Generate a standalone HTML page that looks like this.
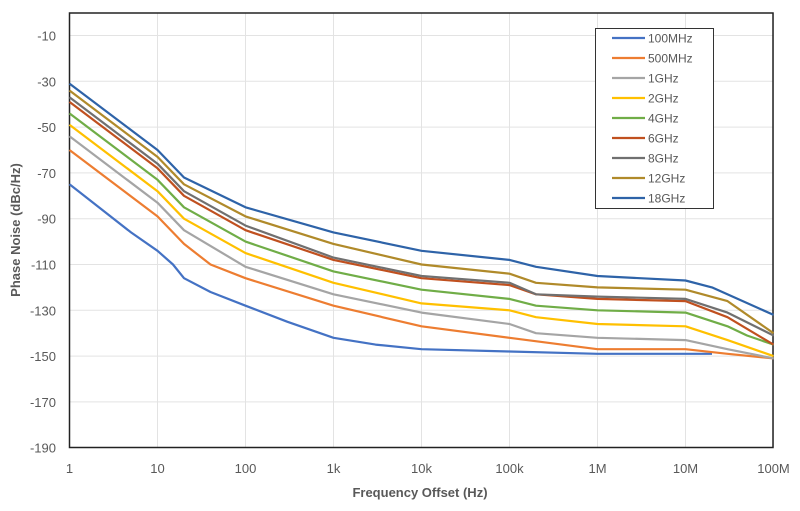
<!DOCTYPE html><html><head><style>body{margin:0;background:#fff}svg{font-family:"Liberation Sans",sans-serif}</style></head><body>
<svg id="s" width="800" height="506" xmlns="http://www.w3.org/2000/svg"></svg>
<script>
const s=document.getElementById('s');let h='';
const X=d=>69.5+88*d, Y=v=>35.5+(-10-v)*2.29;
for(let v=-10;v>=-170;v-=20)h+=`<line x1="69.5" x2="773" y1="${Y(v)}" y2="${Y(v)}" stroke="#e3e3e3"/>`;
for(let d=1;d<=8;d++)h+=`<line x1="${X(d)}" x2="${X(d)}" y1="13" y2="447" stroke="#e3e3e3"/>`;
h+=`<rect x="69.5" y="13" width="703.5" height="434.5" fill="none" stroke="#222" stroke-width="1.5"/>`;
for(let v=-10;v>=-190;v-=20)h+=`<text x="56" y="${Y(v)+5}" font-size="13" fill="#595959" text-anchor="end">${v}</text>`;
['1','10','100','1k','10k','100k','1M','10M','100M'].forEach((t,i)=>h+=`<text x="${X(i)}" y="473" font-size="13" fill="#595959" text-anchor="middle">${t}</text>`);
h+=`<text x="420" y="497" font-size="13" font-weight="bold" fill="#595959" text-anchor="middle">Frequency Offset (Hz)</text>`;
h+=`<text transform="translate(20,230) rotate(-90)" font-size="13" font-weight="bold" fill="#595959" text-anchor="middle">Phase Noise (dBc/Hz)</text>`;
const L=Math.log10;
const S=[
['100MHz','#4472C4',[[1,-75],[2,-84],[5,-96],[10,-104],[15,-110],[20,-116],[40,-122],[100,-128],[300,-135],[1e3,-142],[3e3,-145],[1e4,-147],[1e5,-148],[1e6,-149],[1e7,-149],[2e7,-149]]],
['500MHz','#ED7D31',[[1,-60],[10,-89],[20,-101],[40,-110],[100,-116],[1e3,-128],[1e4,-137],[1e5,-142],[1e6,-147],[1e7,-147],[3e7,-149],[1e8,-151]]],
['1GHz','#A5A5A5',[[1,-54],[10,-83],[20,-95],[100,-111],[1e3,-123],[1e4,-131],[1e5,-136],[2e5,-140],[1e6,-142],[1e7,-143],[3e7,-147],[1e8,-151]]],
['2GHz','#FFC000',[[1,-49],[10,-78],[20,-90],[100,-105],[1e3,-118],[1e4,-127],[1e5,-130],[2e5,-133],[1e6,-136],[1e7,-137],[3e7,-143],[1e8,-150]]],
['4GHz','#70AD47',[[1,-44],[10,-73],[20,-85],[100,-100],[1e3,-113],[1e4,-121],[1e5,-125],[2e5,-128],[1e6,-130],[1e7,-131],[3e7,-137],[5e7,-141],[1e8,-145]]],
['6GHz','#C0501F',[[1,-39],[10,-68],[20,-80],[100,-95],[1e3,-108],[1e4,-116],[1e5,-119],[2e5,-123],[1e6,-125],[1e7,-126],[3e7,-133],[1e8,-145]]],
['8GHz','#707070',[[1,-37],[10,-66],[20,-78],[100,-93],[1e3,-107],[1e4,-115],[1e5,-118],[2e5,-123],[1e6,-124],[1e7,-125],[3e7,-131],[1e8,-141]]],
['12GHz','#B08A2A',[[1,-34],[10,-63],[20,-75],[100,-89],[1e3,-101],[1e4,-110],[1e5,-114],[2e5,-118],[1e6,-120],[1e7,-121],[3e7,-126],[1e8,-140]]],
['18GHz','#2E63A8',[[1,-31],[10,-60],[20,-72],[100,-85],[1e3,-96],[1e4,-104],[1e5,-108],[2e5,-111],[1e6,-115],[1e7,-117],[2e7,-120],[1e8,-132]]]];
S.forEach(([n,c,p])=>h+=`<polyline fill="none" stroke="${c}" stroke-width="2.2" stroke-linejoin="round" points="${p.map(([f,v])=>X(L(f)).toFixed(1)+','+Y(v).toFixed(1)).join(' ')}"/>`);
h+=`<rect x="595.5" y="28.5" width="118" height="180" fill="#fff" stroke="#333"/>`;
S.forEach(([n,c],i)=>{const y=38+20*i;h+=`<line x1="612" x2="645" y1="${y}" y2="${y}" stroke="${c}" stroke-width="2.2"/><text x="648" y="${y+4.5}" font-size="12" fill="#595959">${n}</text>`});
s.innerHTML=h;
</script></body></html>
